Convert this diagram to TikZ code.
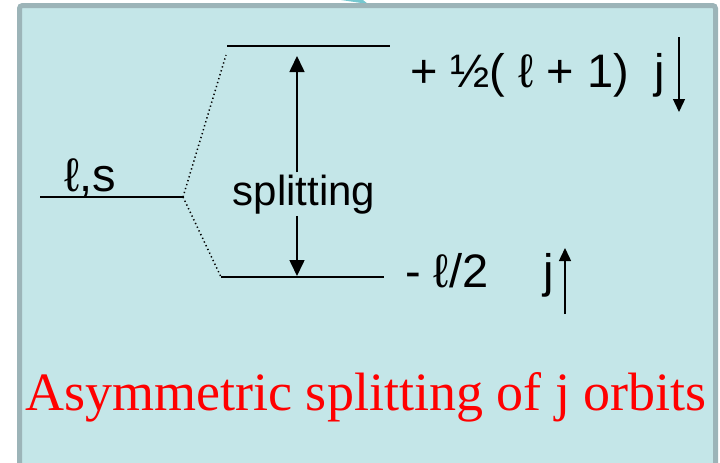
\documentclass[tikz,border=0pt]{standalone}
\usepackage{fontspec}
\setmainfont{Liberation Serif}
\setsansfont{Liberation Sans}
\usetikzlibrary{
  arrows.meta,
  positioning
}
\definecolor{panelfill}{RGB}{196,230,232}
\definecolor{panelrim}{RGB}{156,180,184}
\definecolor{tealtip}{RGB}{118,200,208}

\begin{document}
\begin{tikzpicture}[
  x=1pt, y=-1pt,
  levelline/.style={
    line width=2pt,
    black
  },
  dotline/.style={
    line width=1.5pt,
    dash pattern=on 1.3pt off 2.8pt
  },
  splitarrow/.style={
    -{Triangle[length=16pt,width=15pt]},
    line width=1.6pt
  },
  spinarrow/.style={
    -{Triangle[length=13pt,width=12pt]},
    line width=1.4pt
  },
  lbl/.style={
    font=\sffamily\fontsize{47}{54}\selectfont,
    inner sep=0pt,
    anchor=base west
  },
  caption/.style={
    font=\rmfamily\fontsize{54}{62}\selectfont,
    text=red,
    inner sep=0pt,
    anchor=base
  }
]
  \useasboundingbox (0,0) rectangle (720,463);

  % Panel
  \fill[tealtip] (341,0) -- (363,0) -- (368,4) -- cycle;
  \draw[panelrim, fill=panelfill, line width=5pt, rounded corners=3pt] (19.5,5.5) rectangle (715.5,480);

  % Energy levels
  \coordinate (ls-l) at (40,197);
  \coordinate (ls-r) at (183,197);
  \coordinate (up-l) at (227,46);
  \coordinate (up-r) at (390,46);
  \coordinate (dn-l) at (221,277);
  \coordinate (dn-r) at (384,277);
  \draw[levelline] (ls-l) -- (ls-r);
  \draw[levelline] (up-l) -- (up-r);
  \draw[levelline] (dn-l) -- (dn-r);
  \draw[dotline] (ls-r) -- ([shift={(-1,9)}]up-l);
  \draw[dotline] (ls-r) -- (dn-l);

  % Labels
  \node[lbl] (lslbl) at (64,191) {ℓ,s};
  \node[lbl] (uplbl) at (410,87) {+ ½( ℓ + 1)};
  \node[lbl] (upj) at (654,87) {j};
  \node[lbl] (dnlbl) at (405,287) {- ℓ/2};
  \node[lbl] (dnj) at (543,287) {j};

  % Splitting arrow
  \node[lbl, font=\sffamily\fontsize{42}{50}\selectfont, anchor=base, inner sep=2pt] (splitlbl) at (304,205) {splitting};
  \coordinate (sp-top) at (297,56);
  \coordinate (sp-bot) at (297,276);
  \draw[splitarrow] (sp-top |- splitlbl.north) -- (sp-top);
  \draw[splitarrow] (sp-bot |- splitlbl.south) -- (sp-bot);

  % Spin direction arrows
  \coordinate (jd-a) at (679,37);
  \coordinate (jd-b) at (679,112);
  \coordinate (ju-a) at (565,314);
  \coordinate (ju-b) at (565,248);
  \draw[spinarrow] (jd-a) -- (jd-b);
  \draw[spinarrow] (ju-a) -- (ju-b);

  % Caption
  \node[caption] (title) at (366,410) {Asymmetric splitting of j orbits};
\end{tikzpicture}
\end{document}
